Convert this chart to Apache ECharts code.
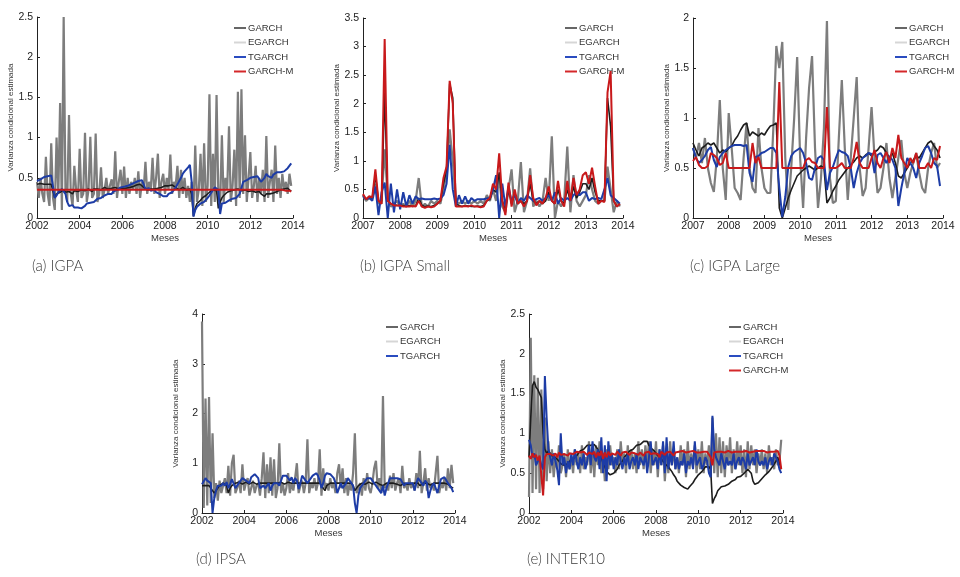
<!DOCTYPE html>
<html>
<head>
<meta charset="utf-8">
<script src="https://cdn.jsdelivr.net/npm/echarts@6/dist/echarts.min.js"></script>
<style>
html,body{margin:0;padding:0;background:#fff;}
#chart{width:960px;height:577px;}
</style>
</head>
<body>
<div id="chart"></div>
<script>
// ---------- DATA (monthly values) ----------
const seriesNames = ['GARCH', 'EGARCH', 'TGARCH', 'GARCH-M'];
const captions = ['(a) IGPA', '(b) IGPA Small', '(c) IGPA Large', '(d) IPSA', '(e) INTER10'];
const xStart = [2002, 2007, 2007, 2002, 2002];
const yMax = [2.5, 3.5, 2, 4, 2.5];
const yStep = [0.5, 0.5, 0.5, 1, 0.5];

// (a) IGPA  2002-01 .. 2013-12
const igpaGarch = [
0.45,0.25,0.5,0.3,0.2,0.76,0.3,0.15,0.93,0.25,0.1,1.0,
0.3,1.43,0.1,2.5,0.35,0.2,1.28,0.3,0.15,0.65,0.35,0.2,
0.86,0.25,0.3,1.06,0.2,0.35,1.01,0.25,0.3,1.05,0.2,0.3,
0.63,0.25,0.35,0.5,0.3,0.4,0.48,0.3,0.83,0.25,0.45,0.6,
0.3,0.64,0.25,0.5,0.3,0.45,0.35,0.5,0.3,0.58,0.25,0.45,
0.35,0.7,0.3,0.45,0.35,0.75,0.3,0.5,0.8,0.25,0.45,0.55,
0.3,0.5,0.35,0.79,0.3,0.45,0.4,0.65,0.25,0.6,0.3,0.5,
0.25,0.4,0.2,0.45,0.1,0.9,0.2,0.35,0.8,0.15,0.93,0.2,
0.4,1.54,0.15,0.8,0.2,1.53,0.3,0.15,1.03,0.2,0.5,0.35,
1.14,0.2,0.4,0.85,0.15,1.57,0.25,1.6,0.3,1.03,0.2,0.5,
0.82,0.25,0.4,0.65,0.2,0.5,0.3,0.6,0.2,1.02,0.25,0.45,
0.6,0.2,0.9,0.3,0.5,0.25,0.55,0.35,0.45,0.3,0.55,0.4];
const igpaEgarch = [
0.42,0.42,0.43,0.42,0.42,0.41,0.42,0.42,0.42,0.42,0.25,0.3,
0.28,0.32,0.3,0.35,0.32,0.3,0.33,0.32,0.3,0.34,0.35,0.33,
0.34,0.35,0.36,0.34,0.35,0.36,0.35,0.33,0.36,0.35,0.36,0.37,
0.35,0.36,0.38,0.37,0.36,0.35,0.37,0.36,0.38,0.37,0.36,0.38,
0.37,0.38,0.37,0.39,0.38,0.4,0.39,0.4,0.41,0.4,0.42,0.4,
0.38,0.36,0.35,0.37,0.36,0.34,0.36,0.35,0.37,0.36,0.38,0.4,
0.4,0.41,0.4,0.39,0.41,0.4,0.38,0.36,0.35,0.37,0.38,0.36,
0.35,0.34,0.36,0.3,0.02,0.12,0.18,0.2,0.22,0.25,0.27,0.28,
0.3,0.32,0.34,0.35,0.33,0.34,0.12,0.2,0.25,0.28,0.3,0.32,
0.33,0.34,0.33,0.35,0.34,0.36,0.35,0.34,0.36,0.35,0.34,0.33,
0.35,0.34,0.33,0.32,0.34,0.33,0.3,0.28,0.27,0.3,0.28,0.3,
0.32,0.31,0.3,0.33,0.34,0.35,0.33,0.36,0.35,0.37,0.35,0.33];
const igpaTgarch = [
0.46,0.47,0.48,0.5,0.51,0.5,0.52,0.53,0.53,0.54,0.25,0.28,
0.32,0.3,0.36,0.35,0.3,0.2,0.15,0.14,0.16,0.13,0.12,0.13,
0.13,0.12,0.14,0.15,0.18,0.2,0.19,0.21,0.2,0.22,0.24,0.25,
0.25,0.26,0.28,0.27,0.3,0.32,0.3,0.33,0.32,0.35,0.37,0.38,
0.38,0.39,0.4,0.4,0.41,0.42,0.43,0.44,0.45,0.46,0.47,0.47,
0.42,0.36,0.35,0.37,0.34,0.36,0.35,0.32,0.33,0.3,0.28,0.27,
0.28,0.27,0.3,0.29,0.32,0.35,0.38,0.42,0.46,0.5,0.55,0.58,
0.6,0.63,0.66,0.45,0.02,0.1,0.14,0.16,0.18,0.17,0.2,0.22,
0.25,0.28,0.3,0.35,0.38,0.37,0.35,0.05,0.18,0.2,0.19,0.21,
0.22,0.21,0.24,0.23,0.25,0.26,0.3,0.28,0.45,0.44,0.47,0.48,
0.5,0.52,0.51,0.49,0.52,0.53,0.45,0.44,0.5,0.55,0.52,0.5,
0.5,0.54,0.56,0.57,0.58,0.57,0.57,0.58,0.6,0.62,0.64,0.68];
const igpaGarchM = [
0.35,0.35,0.35,0.35,0.35,0.35,0.35,0.35,0.35,0.35,0.35,0.35,
0.35,0.35,0.35,0.35,0.35,0.35,0.35,0.35,0.35,0.35,0.35,0.35,
0.35,0.35,0.35,0.35,0.35,0.35,0.35,0.35,0.35,0.35,0.35,0.35,
0.35,0.35,0.35,0.35,0.35,0.35,0.35,0.35,0.35,0.35,0.35,0.35,
0.35,0.35,0.35,0.35,0.35,0.35,0.35,0.35,0.35,0.35,0.35,0.35,
0.35,0.35,0.35,0.35,0.35,0.35,0.35,0.35,0.35,0.35,0.35,0.35,
0.35,0.35,0.35,0.35,0.35,0.35,0.35,0.35,0.35,0.35,0.35,0.35,
0.35,0.35,0.35,0.35,0.35,0.35,0.35,0.35,0.35,0.35,0.35,0.35,
0.35,0.35,0.35,0.35,0.35,0.35,0.35,0.35,0.35,0.35,0.35,0.35,
0.35,0.35,0.35,0.35,0.35,0.35,0.35,0.35,0.35,0.35,0.35,0.35,
0.35,0.35,0.35,0.35,0.35,0.35,0.35,0.35,0.35,0.35,0.35,0.35,
0.35,0.35,0.35,0.35,0.35,0.35,0.35,0.34,0.34,0.34,0.34,0.33];

// (b) IGPA Small  2007-01 .. 2013-12
const smallGarch = [
0.4,0.3,0.35,0.35,0.6,0.25,0.3,1.2,0.35,0.2,0.25,0.3,
0.2,0.25,0.2,0.3,0.2,0.3,0.7,0.2,0.25,0.2,0.3,0.25,
0.3,0.25,0.5,0.8,1.55,1.0,0.3,0.25,0.3,0.25,0.3,0.25,
0.3,0.25,0.3,0.25,0.4,0.3,0.5,0.3,0.7,0.2,0.1,0.5,
0.85,0.1,0.3,0.98,0.1,0.3,0.87,0.2,0.3,0.2,0.3,0.7,
0.3,1.43,0.0,0.3,0.2,0.3,1.25,0.1,0.75,0.3,0.2,0.3,
0.4,0.75,0.5,0.3,0.25,0.3,0.3,0.9,0.5,0.1,0.3,0.2];
const smallEgarch = [
0.4,0.33,0.36,0.35,0.75,0.3,0.25,2.2,0.3,0.25,0.24,0.22,
0.22,0.22,0.2,0.22,0.2,0.21,0.35,0.22,0.2,0.21,0.2,0.22,
0.25,0.3,0.6,0.85,2.35,2.1,0.25,0.22,0.2,0.22,0.21,0.2,
0.2,0.21,0.2,0.22,0.3,0.33,0.5,0.45,0.8,0.3,0.15,0.5,
0.25,0.45,0.25,0.3,0.25,0.3,0.6,0.3,0.25,0.3,0.25,0.3,
0.45,0.3,0.25,0.5,0.3,0.25,0.5,0.3,0.55,0.35,0.45,0.6,
0.6,0.5,0.7,0.45,0.3,0.3,0.3,2.1,1.6,0.3,0.2,0.25];
const smallTgarch = [
0.38,0.33,0.35,0.3,0.55,0.05,0.45,0.62,0.0,0.6,0.1,0.5,
0.15,0.45,0.2,0.4,0.25,0.38,0.33,0.34,0.33,0.33,0.33,0.34,
0.33,0.34,0.4,0.6,1.28,0.5,0.2,0.4,0.25,0.38,0.25,0.35,
0.3,0.33,0.33,0.33,0.34,0.35,0.5,0.75,0.0,0.6,0.2,0.55,
0.3,0.4,0.25,0.35,0.3,0.4,0.35,0.3,0.33,0.35,0.3,0.35,
0.4,0.3,0.45,0.25,0.35,0.3,0.35,0.3,0.4,0.45,0.4,0.45,
0.45,0.3,0.35,0.33,0.35,0.33,0.5,0.7,0.4,0.35,0.3,0.25];
const smallGarchM = [
0.42,0.33,0.38,0.36,0.85,0.3,0.25,3.13,0.3,0.25,0.22,0.22,
0.22,0.2,0.2,0.2,0.21,0.2,0.3,0.2,0.18,0.2,0.19,0.2,
0.25,0.3,0.7,0.9,2.4,2.0,0.2,0.2,0.2,0.21,0.2,0.22,
0.2,0.2,0.19,0.2,0.3,0.35,0.6,0.5,1.13,0.3,0.05,0.62,
0.2,0.5,0.25,0.3,0.2,0.3,0.75,0.35,0.22,0.3,0.25,0.35,
0.55,0.3,0.25,0.65,0.3,0.2,0.65,0.3,0.7,0.4,0.5,0.75,
0.8,0.6,0.88,0.55,0.25,0.3,0.28,2.2,2.57,0.3,0.2,0.25];

// (c) IGPA Large  2007-01 .. 2013-12
const largeGarch = [
0.7,0.6,0.75,0.55,0.8,0.5,0.35,0.26,0.6,1.18,0.5,0.18,
1.05,0.7,0.3,0.25,0.18,0.6,0.95,0.5,0.3,0.25,0.9,0.5,
0.3,0.25,0.25,0.9,1.72,1.5,1.76,0.6,0.08,0.5,1.0,1.61,
0.6,0.1,0.8,1.3,1.62,0.7,0.1,0.4,0.9,1.97,0.4,0.15,
0.17,0.8,1.38,0.7,0.18,0.6,1.0,1.41,0.5,0.22,0.3,0.7,
1.11,0.6,0.25,0.3,0.5,0.75,0.4,0.2,0.4,0.6,0.78,0.45,
0.3,0.45,0.55,0.65,0.45,0.3,0.25,0.5,0.65,0.75,0.5,0.55];
const largeEgarch = [
0.75,0.68,0.62,0.7,0.72,0.75,0.73,0.75,0.7,0.65,0.68,0.66,
0.7,0.72,0.78,0.82,0.88,0.93,0.95,0.82,0.86,0.84,0.82,0.85,
0.83,0.88,0.92,0.93,0.95,0.1,0.0,0.1,0.2,0.28,0.35,0.42,
0.45,0.48,0.5,0.52,0.5,0.48,0.5,0.52,0.5,0.15,0.2,0.27,
0.32,0.38,0.42,0.46,0.5,0.53,0.56,0.6,0.62,0.6,0.63,0.65,
0.62,0.66,0.68,0.72,0.7,0.65,0.6,0.65,0.55,0.42,0.4,0.45,
0.5,0.55,0.58,0.62,0.6,0.65,0.7,0.75,0.77,0.72,0.68,0.6];
const largeTgarch = [
0.7,0.6,0.55,0.58,0.62,0.68,0.71,0.58,0.51,0.61,0.65,0.68,
0.7,0.72,0.73,0.73,0.73,0.72,0.73,0.45,0.36,0.61,0.62,0.65,
0.66,0.68,0.7,0.7,0.65,0.3,0.01,0.21,0.51,0.62,0.66,0.68,
0.7,0.65,0.55,0.4,0.38,0.5,0.6,0.62,0.58,0.28,0.45,0.51,
0.6,0.68,0.66,0.65,0.62,0.5,0.3,0.45,0.55,0.6,0.62,0.65,
0.64,0.45,0.63,0.65,0.6,0.55,0.62,0.58,0.5,0.12,0.3,0.45,
0.6,0.55,0.5,0.4,0.55,0.62,0.7,0.72,0.65,0.55,0.52,0.32];
const largeGarchM = [
0.57,0.61,0.53,0.5,0.5,0.52,0.65,0.63,0.6,0.53,0.55,0.65,
0.5,0.5,0.5,0.5,0.5,0.5,0.5,0.5,0.75,0.55,0.61,0.5,
0.5,0.5,0.5,0.5,0.5,1.36,0.5,0.5,0.5,0.5,0.5,0.5,
0.5,0.5,0.58,0.6,0.56,0.55,0.5,0.5,0.5,1.11,0.5,0.5,
0.5,0.52,0.55,0.5,0.5,0.5,0.6,0.76,0.55,0.5,0.5,0.5,
0.6,0.68,0.55,0.5,0.6,0.66,0.55,0.7,0.6,0.83,0.6,0.55,
0.5,0.6,0.55,0.65,0.5,0.5,0.5,0.55,0.5,0.6,0.58,0.72];

// (d) IPSA  2002-01 .. 2013-12
const ipsaGarch = [
3.85,0.1,2.3,0.15,2.33,0.2,1.6,0.3,0.6,0.25,0.65,0.4,
0.55,0.7,0.4,0.95,0.35,1.0,1.17,0.4,0.5,0.65,0.4,0.98,
0.45,0.6,0.7,0.35,0.5,0.65,0.4,0.55,0.6,0.35,0.7,1.22,
0.3,0.98,0.4,1.12,0.35,1.08,0.3,0.5,1.4,0.4,0.6,0.35,
0.5,0.8,0.4,0.6,0.45,0.7,1.0,0.4,0.55,0.65,0.4,0.6,
1.48,0.4,0.6,0.5,0.7,0.45,0.6,1.28,0.35,0.9,0.5,0.6,
0.45,0.7,0.5,0.6,0.4,0.8,0.98,0.5,0.9,0.4,0.7,0.35,
0.6,0.45,0.8,1.6,0.4,0.5,0.6,0.35,0.7,0.45,0.8,0.5,
0.4,0.6,0.9,1.05,0.5,0.7,0.4,2.35,0.5,0.6,0.45,0.75,
0.5,0.8,0.45,0.6,0.7,0.4,0.95,0.5,0.6,0.45,0.7,0.5,
0.6,0.45,0.8,0.5,1.25,0.4,0.6,0.9,0.45,0.7,0.5,0.6,
0.45,0.8,1.15,0.4,0.6,0.5,0.7,0.45,0.9,0.5,0.97,0.6];
const ipsaEgarch = [
0.55,0.52,0.55,0.58,0.55,0.5,0.45,0.4,0.45,0.5,0.55,0.58,
0.6,0.58,0.55,0.4,0.5,0.55,0.58,0.6,0.6,0.62,0.6,0.58,
0.6,0.62,0.6,0.58,0.6,0.62,0.6,0.58,0.57,0.6,0.62,0.6,
0.58,0.6,0.59,0.6,0.62,0.6,0.58,0.6,0.61,0.62,0.6,0.58,
0.6,0.62,0.61,0.6,0.58,0.6,0.62,0.6,0.61,0.6,0.58,0.6,
0.62,0.6,0.58,0.6,0.61,0.6,0.58,0.6,0.58,0.5,0.45,0.55,
0.58,0.6,0.62,0.6,0.58,0.6,0.61,0.6,0.58,0.6,0.62,0.6,
0.58,0.6,0.55,0.45,0.5,0.55,0.58,0.6,0.6,0.58,0.6,0.62,
0.6,0.58,0.6,0.62,0.6,0.58,0.6,0.55,0.58,0.6,0.61,0.6,
0.58,0.6,0.6,0.58,0.56,0.55,0.58,0.6,0.6,0.58,0.6,0.59,
0.58,0.6,0.58,0.6,0.55,0.58,0.6,0.58,0.6,0.58,0.56,0.58,
0.6,0.58,0.6,0.62,0.6,0.58,0.6,0.6,0.58,0.55,0.52,0.5];
const ipsaTgarch = [
0.58,0.62,0.7,0.65,0.68,0.6,0.0,0.3,0.45,0.55,0.58,0.55,
0.6,0.55,0.62,0.5,0.58,0.68,0.7,0.5,0.55,0.6,0.65,0.7,
0.7,0.65,0.68,0.6,0.72,0.75,0.78,0.78,0.7,0.5,0.52,0.55,
0.5,0.55,0.6,0.45,0.55,0.6,0.62,0.6,0.55,0.65,0.75,0.72,
0.75,0.7,0.65,0.72,0.6,0.7,0.65,0.48,0.6,0.75,0.7,0.65,
0.6,0.65,0.7,0.75,0.78,0.8,0.75,0.65,0.5,0.6,0.75,0.8,
0.8,0.78,0.75,0.7,0.6,0.4,0.5,0.6,0.5,0.55,0.6,0.7,
0.68,0.6,0.55,0.2,0.0,0.35,0.5,0.55,0.6,0.65,0.7,0.72,
0.7,0.65,0.6,0.55,0.5,0.45,0.4,0.55,0.35,0.5,0.6,0.7,
0.72,0.7,0.68,0.7,0.72,0.68,0.65,0.55,0.6,0.62,0.6,0.58,
0.6,0.45,0.6,0.7,0.65,0.6,0.55,0.65,0.6,0.3,0.45,0.55,
0.6,0.5,0.4,0.55,0.68,0.7,0.72,0.75,0.6,0.55,0.5,0.42];

// (e) INTER10  2002-01 .. 2013-12
const interGarch = [
0.2,2.2,0.25,1.73,0.3,1.7,0.25,1.55,0.3,1.2,0.4,0.9,
0.5,0.8,0.45,0.7,0.55,0.85,0.5,0.6,0.75,0.45,0.8,0.55,
0.7,0.5,0.8,0.6,0.75,0.5,0.85,0.55,0.7,0.6,0.9,0.5,
0.8,0.45,0.85,0.6,0.9,0.5,0.75,0.4,0.8,0.55,0.85,0.6,
0.7,0.5,0.8,0.55,0.9,0.6,0.75,0.5,0.85,0.6,0.8,0.55,
0.75,0.5,0.9,0.6,0.8,0.55,0.85,0.6,0.9,0.5,0.8,0.6,
0.9,0.45,0.8,0.6,0.85,0.4,0.75,0.5,0.9,0.6,0.8,0.55,
0.7,0.5,0.85,0.6,0.8,0.45,0.9,0.55,0.75,0.6,0.85,0.5,
0.8,0.55,0.9,0.5,0.75,0.6,0.85,0.45,1.2,0.5,1.0,0.45,
0.95,0.5,0.9,0.45,0.85,0.6,0.95,0.5,0.8,0.55,0.9,0.6,
0.85,0.5,0.8,0.45,0.9,0.55,0.85,0.6,0.8,0.5,0.75,0.6,
0.8,0.55,0.75,0.5,0.85,0.6,0.7,0.55,0.8,0.6,0.65,0.92];
const interEgarch = [
0.7,1.2,1.6,1.65,1.58,1.55,1.5,1.45,1.0,0.8,0.75,0.78,
0.75,0.72,0.7,0.7,0.68,0.65,0.62,0.6,0.6,0.58,0.62,0.65,
0.65,0.68,0.7,0.72,0.75,0.78,0.8,0.8,0.82,0.85,0.83,0.85,
0.85,0.86,0.85,0.8,0.75,0.7,0.62,0.58,0.52,0.5,0.48,0.5,
0.5,0.52,0.55,0.6,0.62,0.65,0.7,0.72,0.75,0.78,0.8,0.8,
0.82,0.85,0.84,0.86,0.88,0.9,0.88,0.9,0.85,0.82,0.8,0.78,
0.75,0.72,0.7,0.68,0.65,0.62,0.6,0.58,0.55,0.52,0.48,0.45,
0.4,0.38,0.35,0.33,0.32,0.3,0.3,0.33,0.35,0.38,0.42,0.45,
0.48,0.5,0.52,0.55,0.58,0.6,0.58,0.55,0.12,0.18,0.22,0.28,
0.3,0.33,0.35,0.34,0.33,0.36,0.38,0.4,0.4,0.42,0.45,0.45,
0.46,0.48,0.5,0.52,0.55,0.55,0.5,0.4,0.36,0.35,0.38,0.4,
0.43,0.45,0.48,0.5,0.52,0.55,0.58,0.6,0.65,0.7,0.72,0.55];
const interTgarch = [
0.92,0.85,0.7,0.75,0.6,0.65,0.7,0.6,0.55,1.72,1.2,0.8,
0.7,0.6,0.75,0.65,0.55,0.35,1.0,0.6,0.7,0.5,0.65,0.55,
0.75,0.6,0.8,0.65,0.55,0.7,0.6,0.75,0.55,0.65,0.85,0.6,
0.9,0.7,0.65,0.8,0.55,0.95,0.5,0.85,0.4,0.9,0.6,0.75,
0.55,0.7,0.6,0.8,0.65,0.55,0.7,0.6,0.75,0.55,0.65,0.7,
0.6,0.75,0.55,0.7,0.65,0.6,0.75,0.5,0.7,0.9,0.6,0.65,
0.7,0.55,0.8,0.6,0.9,0.5,0.95,0.55,0.75,0.6,0.9,0.55,
0.7,0.55,0.65,0.6,0.75,0.5,0.65,0.6,0.7,0.55,0.9,0.6,
0.65,0.7,0.55,0.6,0.7,0.65,0.5,0.45,1.22,0.8,0.7,0.65,
0.6,0.75,0.65,0.55,0.7,0.6,0.65,0.6,0.75,0.55,0.65,0.7,
0.6,0.7,0.65,0.55,0.75,0.6,0.65,0.7,0.6,0.8,0.65,0.6,
0.65,0.6,0.7,0.55,0.65,0.7,0.6,0.75,0.7,0.65,0.55,0.5];
const interGarchM = [
0.72,0.68,0.75,0.7,0.73,0.66,0.72,0.7,0.22,0.7,0.74,0.75,
0.74,0.76,0.72,0.75,0.7,0.76,0.73,0.75,0.74,0.76,0.72,0.75,
0.76,0.74,0.73,0.77,0.75,0.76,0.74,0.77,0.75,0.73,0.76,0.75,
0.74,0.77,0.7,0.76,0.72,0.78,0.68,0.76,0.7,0.77,0.72,0.75,
0.76,0.73,0.77,0.75,0.72,0.76,0.74,0.77,0.75,0.73,0.76,0.74,
0.75,0.77,0.73,0.76,0.74,0.72,0.76,0.75,0.77,0.74,0.72,0.75,
0.76,0.74,0.7,0.77,0.75,0.73,0.76,0.74,0.77,0.75,0.72,0.76,
0.75,0.77,0.76,0.78,0.77,0.76,0.75,0.77,0.76,0.78,0.77,0.76,
0.77,0.76,0.78,0.77,0.76,0.77,0.75,0.7,0.6,0.76,0.78,0.77,
0.76,0.77,0.78,0.76,0.77,0.78,0.77,0.76,0.78,0.77,0.76,0.77,
0.78,0.77,0.76,0.78,0.77,0.76,0.78,0.77,0.76,0.78,0.77,0.78,
0.77,0.78,0.77,0.76,0.78,0.77,0.78,0.77,0.76,0.78,0.72,0.55];

const panelData = [
  [igpaGarch, igpaEgarch, igpaTgarch, igpaGarchM],
  [smallGarch, smallEgarch, smallTgarch, smallGarchM],
  [largeGarch, largeEgarch, largeTgarch, largeGarchM],
  [ipsaGarch, ipsaEgarch, ipsaTgarch, null],
  [interGarch, interEgarch, interTgarch, interGarchM]
];

// ---------- LAYOUT / STYLE ----------
const grids = [
  {left: 37, top: 17, width: 256, height: 201},
  {left: 363, top: 18, width: 260, height: 200},
  {left: 693, top: 18, width: 250, height: 200},
  {left: 202, top: 314, width: 253, height: 199},
  {left: 529, top: 314, width: 254, height: 199}
];
const legendPos = [
  {left: 229, top: 18}, {left: 560, top: 18}, {left: 890, top: 18},
  {left: 381, top: 317}, {left: 724, top: 317}
];
const captionPos = [[32, 259], [360, 259], [690, 259], [196, 552], [527, 552]];
const lineColors = ['#7d7d7d', '#1c1c1c', '#1d3ca6', '#c8191b'];
const legendColors = ['#666666', '#d6d6d6', '#2a4cc0', '#d4282a'];
const lineWidths = [2.2, 1.6, 2, 2];
const font = 'Liberation Sans, Arial, sans-serif';

const chart = echarts.init(document.getElementById('chart'), null, {renderer: 'canvas'});

const xAxes = [], yAxes = [], series = [], legends = [], graphics = [];
grids.forEach((g, k) => {
  const start = xStart[k];
  xAxes.push({
    gridIndex: k, type: 'value', min: start, max: 2014,
    interval: start === 2002 ? 2 : 1,
    name: 'Meses', nameLocation: 'middle', nameGap: 12,
    nameTextStyle: {fontSize: 9.5, color: '#333', fontFamily: font},
    axisLine: {show: true, lineStyle: {color: '#222', width: 1}},
    axisTick: {show: true, inside: true, length: 3, lineStyle: {color: '#222'}},
    axisLabel: {fontSize: 10.5, color: '#222', fontFamily: font, margin: 3,
      formatter: v => String(Math.round(v))},
    splitLine: {show: false}
  });
  yAxes.push({
    gridIndex: k, type: 'value', min: 0, max: yMax[k], interval: yStep[k],
    name: 'Varianza condicional estimada', nameLocation: 'middle', nameGap: 22,
    nameTextStyle: {fontSize: 8, color: '#333', fontFamily: font},
    axisLine: {show: true, lineStyle: {color: '#222', width: 1}},
    axisTick: {show: true, inside: true, length: 3, lineStyle: {color: '#222'}},
    axisLabel: {fontSize: 10.5, color: '#222', fontFamily: font, margin: 4},
    splitLine: {show: false}
  });
  const names = [];
  panelData[k].forEach((arr, s) => {
    if (!arr) return;
    names.push({name: seriesNames[s], itemStyle: {color: legendColors[s]}});
    series.push({
      type: 'line', name: seriesNames[s], xAxisIndex: k, yAxisIndex: k,
      data: arr.map((v, i) => [start + i / 12, v]),
      showSymbol: false, symbol: 'none', animation: false,
      lineStyle: {color: lineColors[s], width: lineWidths[s]},
      itemStyle: {color: lineColors[s]}, z: 2 + s
    });
  });
  legends.push({
    left: legendPos[k].left, top: legendPos[k].top, orient: 'vertical',
    icon: 'rect', itemWidth: 12, itemHeight: 2, itemGap: 4.5,
    selectedMode: false, data: names,
    textStyle: {fontSize: 9.5, color: '#333', fontFamily: font, padding: [0, 0, 0, -3]}
  });
  graphics.push({
    type: 'text', left: captionPos[k][0], top: captionPos[k][1],
    style: {text: captions[k], fontSize: 15, fontFamily: 'Lato, Open Sans, sans-serif', fill: '#3a3a3a', fontWeight: 300}
  });
});

chart.setOption({
  backgroundColor: '#ffffff',
  animation: false,
  grid: grids,
  xAxis: xAxes,
  yAxis: yAxes,
  legend: legends,
  series: series,
  graphic: graphics
});
</script>
</body>
</html>
